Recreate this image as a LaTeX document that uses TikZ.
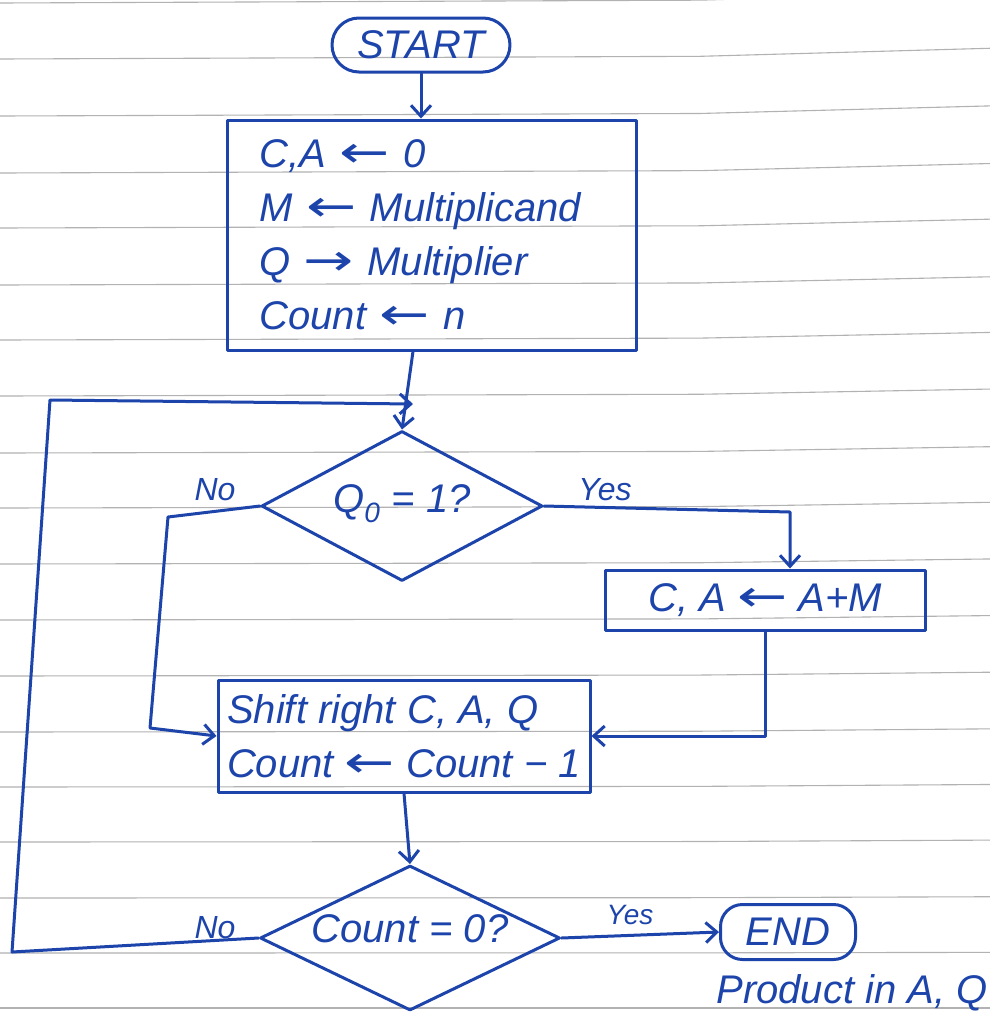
\documentclass[tikz,border=0pt]{standalone}
\usepackage{fontspec}
\usepackage{graphicx}
\setmainfont{Liberation Sans}
\newfontfamily\arrowfont{DejaVu Sans}
\newcommand{\lar}{{\arrowfont\scalebox{1.5}[1.1]{←}}}
\newcommand{\rar}{{\arrowfont\scalebox{1.5}[1.1]{→}}}
\newcommand{\inside}[2]{\smash{\makebox[0pt]{\raisebox{#1}{#2}}}}
\usetikzlibrary{arrows.meta,shapes.geometric}
\definecolor{ink}{RGB}{28,68,170}
\definecolor{ruling}{RGB}{178,178,178}
\begin{document}
\begin{tikzpicture}[x=1pt,y=-1pt,
  hand/.style={font=\fontsize{40}{54}\selectfont\itshape, text=ink},
  inkline/.style={draw=ink, line width=3pt, line join=round, line cap=round},
  flow/.style={inkline, -{Straight Barb[length=11pt,width=20pt]}},
  procbox/.style={inkline, rectangle, hand, align=left, inner sep=0pt},
  decision/.style={inkline, diamond, hand, inner sep=0pt},
  terminal/.style={inkline, rectangle, hand, inner sep=0pt},
  lbl/.style={hand, font=\fontsize{32}{36}\selectfont\itshape}
]
\useasboundingbox (0,0) rectangle (990,1021);
\fill[white] (0,0) rectangle (990,1021);
% ruled paper
\foreach \yl [count=\i] in {3,59,116,173,228,285,340,396,453,508,564,620,676,732,787,842,898,953,1008}{
  \pgfmathsetmacro\dd{12*(1-\i/19)}
  \draw[ruling, line width=1.1pt] (0,\yl) -- (700,\yl-\dd/4) -- (990,\yl-\dd);
}
% nodes
\node[terminal, rounded corners=27pt, minimum width=178pt, minimum height=54pt] (start) at (421,45) {START};
\node[procbox, text width=345pt, minimum width=409pt, minimum height=230pt] (init) at (432,235)
  {C,A \lar\ 0\\ M \lar\ Multiplicand\\ Q \rar\ Multiplier\\ Count \lar\ n};
\node[decision, minimum width=281pt, minimum height=150pt] (test) at (402,506)
  {\inside{-6pt}{Q\textsubscript{0} = 1?}};
\node[procbox, minimum width=320pt, minimum height=60pt] (add) at (765,600) {C, A \lar\ A+M};
\node[procbox, minimum width=372pt, minimum height=112pt] (shift) at (404,736)
  {Shift right C, A, Q\\ Count \lar\ Count − 1};
\node[decision, minimum width=300pt, minimum height=145pt] (cnt) at (410,938)
  {\inside{-4pt}{Count = 0?}};
\node[terminal, rounded corners=22pt, minimum width=135pt, minimum height=55pt] (end) at (788,932) {END};
\node[hand] (prod) at (852,993) {Product in A, Q};
% labels
\node[lbl] (no1) at (215,490) {No};
\node[lbl] (yes1) at (605,490) {Yes};
\node[lbl] (no2) at (215,928) {No};
\node[lbl, font=\fontsize{28}{32}\selectfont\itshape] (yes2) at (630,915) {Yes};
% helper coordinates
\coordinate (j) at (413,404);
\coordinate (lt) at (50,400);
\coordinate (lb) at (12,952);
\coordinate (nL) at (168,517);
\coordinate (nB) at (150,728);
\coordinate (yR) at (790,512);
% connectors
\draw[flow] (start.south) -- (start.south |- init.north);
\draw[flow] (init.south -| j) -- (test.north);
\draw[flow] (cnt.west) -- (lb) -- (lt) -- (j);
\draw[flow] (test.west) -- (nL) -- (nB) -- (shift.west);
\draw[flow] (test.east) -- (yR) -- (yR |- add.north);
\draw[flow] (add.south) |- (shift.east);
\draw[flow] (shift.south) -- (cnt.north);
\draw[flow] (cnt.east) -- (end.west);
\end{tikzpicture}
\end{document}
